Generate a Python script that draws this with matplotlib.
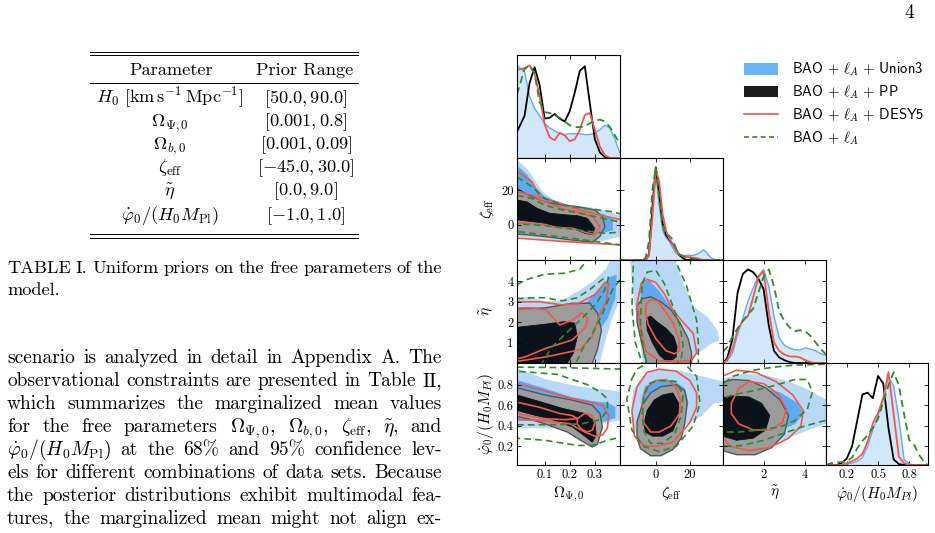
import matplotlib
matplotlib.use("Agg")
import matplotlib.pyplot as plt
from matplotlib.patches import Patch
from matplotlib.lines import Line2D

plt.rcParams['font.family'] = 'serif'
plt.rcParams['font.serif'] = ['cmr10']
plt.rcParams['mathtext.fontset'] = 'cm'
plt.rcParams['axes.formatter.use_mathtext'] = True

# ---------------------------------------------------------------------------
# page text
# ---------------------------------------------------------------------------
table_params = [r'$H_0\ [\mathrm{km\,s^{-1}\,Mpc^{-1}}]$', r'$\Omega_{\Psi,0}$',
                r'$\Omega_{b,0}$', r'$\zeta_{\mathrm{eff}}$', r'$\tilde{\eta}$',
                r'$\dot{\varphi}_0/(H_0M_{\mathrm{Pl}})$']
table_ranges = [r'$[50.0, 90.0]$', r'$[0.001, 0.8]$', r'$[0.001, 0.09]$',
                r'$[-45.0, 30.0]$', r'$[0.0, 9.0]$', r'$[-1.0, 1.0]$']
caption_lines = ['TABLE I. Uniform priors on the free parameters of the',
                 'model.']
# words are split on spaces, so the math parts hold no spaces
body_lines = ['scenario is analyzed in detail in Appendix A. The',
              'observational constraints are presented in Table II,',
              'which summarizes the marginalized mean values',
              r'for the free parameters $\Omega_{\Psi,0}$, $\Omega_{b,0}$, $\zeta_{\mathrm{eff}}$, $\tilde{\eta}$, and',
              r'$\dot{\varphi}_0/(H_0M_{\mathrm{Pl}})$ at the 68% and 95% confidence lev-',
              'els for different combinations of data sets. Because',
              'the posterior distributions exhibit multimodal fea-',
              'tures, the marginalized mean might not align ex-']

# ---------------------------------------------------------------------------
# corner plot data
# ---------------------------------------------------------------------------
labels = [r'$\Omega_{\Psi,0}$', r'$\zeta_{\mathrm{eff}}$', r'$\tilde{\eta}$',
          r'$\dot{\varphi}_0/(H_0M_{Pl})$']
xlims = [(-0.01, 0.40), (-21, 39.5), (0.05, 5.0), (0.0, 0.98)]
ylims = [(0, 1), (-20.2, 38.5), (0.0, 5.05), (0.02, 1.01)]
ticks = [[0.1, 0.2, 0.3], [0, 20], [1, 2, 3, 4], [0.2, 0.4, 0.6, 0.8]]
tick_text = [['0.1', '0.2', '0.3'], ['0', '20'], ['1', '2', '3', '4'],
             ['0.2', '0.4', '0.6', '0.8']]
xticks_bottom = [[0.1, 0.2, 0.3], [0, 20], [2, 4], [0.2, 0.5, 0.8]]
xtick_text = [['0.1', '0.2', '0.3'], ['0', '20'], ['2', '4'], ['0.2', '0.5', '0.8']]
legend_labels = [r'BAO $+$ $\ell_A$ $+$ Union3', r'BAO $+$ $\ell_A$ $+$ PP',
                 r'BAO $+$ $\ell_A$ $+$ DESY5', r'BAO $+$ $\ell_A$']

# 1D marginals (peak normalised)
om_grid = [-0.01, 0.02, 0.04, 0.06, 0.08, 0.10, 0.12, 0.14, 0.16, 0.18, 0.20,
           0.22, 0.24, 0.26, 0.28, 0.30, 0.32, 0.34, 0.36, 0.38, 0.40]
om_union3 = [0.99, 0.92, 0.66, 0.53, 0.45, 0.37, 0.32, 0.29, 0.26, 0.25, 0.26,
             0.26, 0.26, 0.25, 0.25, 0.27, 0.30, 0.35, 0.32, 0.20, 0.05]
om_pp = [0.28, 0.45, 0.80, 0.97, 0.78, 0.42, 0.43, 0.47, 0.42, 0.39, 0.50,
         0.70, 0.93, 0.98, 0.58, 0.20, 0.06, 0.01, 0.0, 0.0, 0.0]
om_desy5 = [0.94, 0.96, 0.99, 0.90, 0.66, 0.36, 0.22, 0.19, 0.27, 0.24, 0.18,
            0.20, 0.30, 0.46, 0.48, 0.30, 0.12, 0.03, 0.0, 0.0, 0.0]
om_bao = [0.68, 0.95, 0.99, 0.90, 0.60, 0.49, 0.48, 0.46, 0.43, 0.39, 0.35,
          0.33, 0.33, 0.34, 0.37, 0.40, 0.41, 0.39, 0.33, 0.24, 0.15]

ze_grid = [-21, -8, -6, -4, -2, 0, 2, 4, 6, 8, 10, 12, 14, 16, 18, 20, 22, 24,
           26, 28, 30, 32, 34, 36, 39.5]
ze_union3 = [0, 0, 0, 0.08, 0.6, 0.97, 0.6, 0.32, 0.24, 0.20, 0.13, 0.07, 0.05,
             0.05, 0.05, 0.05, 0.05, 0.06, 0.08, 0.11, 0.08, 0.03, 0.01, 0, 0]
ze_pp = [0, 0, 0, 0.05, 0.55, 1.0, 0.72, 0.40, 0.27, 0.22, 0.17, 0.11, 0.05,
         0.02, 0, 0, 0, 0, 0, 0, 0, 0, 0, 0, 0]
ze_desy5 = [0, 0, 0, 0.05, 0.45, 0.98, 0.85, 0.50, 0.32, 0.23, 0.17, 0.10, 0.06,
            0.04, 0.035, 0.03, 0.025, 0.02, 0.01, 0, 0, 0, 0, 0, 0]
ze_bao = [0, 0, 0.02, 0.2, 0.75, 1.0, 0.65, 0.38, 0.26, 0.26, 0.22, 0.12, 0.06,
          0.04, 0.03, 0.02, 0.015, 0.01, 0.005, 0, 0, 0, 0, 0, 0]

et_grid = [0.05, 0.25, 0.5, 0.75, 1.0, 1.25, 1.5, 1.75, 2.0, 2.25, 2.5, 2.75,
           3.0, 3.25, 3.5, 3.75, 4.0, 4.25, 4.5, 4.75, 5.0]
et_union3 = [0.0, 0.02, 0.1, 0.3, 0.48, 0.66, 0.80, 0.93, 1.0, 0.82, 0.50, 0.27,
             0.19, 0.16, 0.14, 0.14, 0.16, 0.15, 0.13, 0.10, 0.08]
et_pp = [0.0, 0.05, 0.25, 0.75, 0.95, 1.0, 0.97, 0.90, 0.79, 0.40, 0.13, 0.06,
         0.03, 0.01, 0, 0, 0, 0, 0, 0, 0]
et_desy5 = [0.0, 0.03, 0.15, 0.35, 0.45, 0.50, 0.70, 0.92, 0.98, 0.55, 0.22,
            0.13, 0.09, 0.07, 0.07, 0.06, 0.03, 0.01, 0, 0, 0]
et_bao = [0.12, 0.17, 0.28, 0.37, 0.45, 0.52, 0.58, 0.75, 0.92, 1.0, 0.82, 0.55,
          0.45, 0.38, 0.34, 0.35, 0.34, 0.29, 0.22, 0.15, 0.09]

ph_grid = [0.0, 0.05, 0.10, 0.15, 0.20, 0.25, 0.30, 0.35, 0.40, 0.45, 0.50,
           0.55, 0.60, 0.65, 0.70, 0.75, 0.80, 0.85, 0.90, 0.95, 0.98]
ph_union3 = [0, 0, 0, 0, 0.01, 0.02, 0.04, 0.08, 0.2, 0.38, 0.53, 0.72, 0.95,
             0.85, 0.50, 0.06, 0.01, 0, 0, 0, 0]
ph_pp = [0, 0, 0, 0.02, 0.07, 0.2, 0.48, 0.76, 0.78, 0.72, 0.96, 0.88, 0.40,
         0.06, 0.01, 0, 0, 0, 0, 0, 0]
ph_desy5 = [0, 0, 0, 0, 0.02, 0.04, 0.07, 0.12, 0.25, 0.45, 0.56, 0.72, 1.0,
            0.55, 0.09, 0.02, 0, 0, 0, 0, 0]
ph_bao = [0.0, 0.02, 0.03, 0.03, 0.04, 0.08, 0.18, 0.26, 0.32, 0.40, 0.50, 0.68,
          0.86, 1.0, 0.86, 0.55, 0.27, 0.21, 0.10, 0.02, 0.0]

# 2D contours: (x, y) vertices of the 95% and 68% regions
# Omega vs zeta
oz_u95 = [(-0.01, 39), (-0.01, 37), (0.03, 32), (0.06, 25.7), (0.09, 19), (0.14, 13.3),
          (0.21, 11), (0.30, 9.5), (0.37, 6.7), (0.42, 4.5), (0.42, -6), (0.37, -7.6),
          (0.30, -9.9), (0.23, -9.9), (0.17, -9.1), (0.10, -8), (0.03, -7.2), (-0.01, -6.7)]
oz_u68 = [(-0.01, 34), (0.03, 28.6), (0.06, 22), (0.10, 16), (0.17, 12.4), (0.26, 8.6),
          (0.34, 5.7), (0.37, 2.9), (0.37, -2.9), (0.30, -5.7), (0.21, -4.8), (0.10, -3.4),
          (-0.01, -4.2)]
oz_p95 = [(-0.01, 21), (0.03, 17.5), (0.10, 13.3), (0.17, 11.4), (0.23, 10.5), (0.30, 8.6),
          (0.33, 4.8), (0.34, -1), (0.32, -6.7), (0.29, -9.9), (0.23, -9.1), (0.17, -8),
          (0.10, -6.7), (0.03, -5.7), (-0.01, -5.3)]
oz_p68 = [(-0.01, 14.3), (0.03, 13.3), (0.07, 9.5), (0.12, 6.7), (0.19, 5.7), (0.23, 5.3),
          (0.27, 3.8), (0.30, -1.9), (0.29, -5.7), (0.26, -4.8), (0.21, -1.9), (0.15, -1),
          (0.10, 1), (0.05, 1.9), (-0.01, 2.9)]
oz_r95 = [(-0.01, 31), (0.05, 24.8), (0.08, 16), (0.17, 12), (0.24, 8.6), (0.345, 4.8),
          (0.42, 2.5), (0.42, -12), (0.39, -11.4), (0.17, -9.5), (-0.01, -7.6)]
oz_r68 = [(-0.01, 19), (0.05, 17.1), (0.10, 13.3), (0.17, 9.5), (0.23, 7.6), (0.29, 4.8),
          (0.32, -1), (0.30, -5.7), (0.26, -4.2), (0.21, -1.9), (0.15, -1.5), (0.10, 0),
          (0.03, 1), (-0.01, 1)]
oz_g95 = [(-0.01, 27.6), (0.05, 22), (0.10, 15.2), (0.17, 11.4), (0.26, 9.5), (0.37, 7.6),
          (0.42, 5.7), (0.42, -12), (0.40, -11.5), (0.30, -9.5), (0.17, -7), (-0.01, -3.8)]
oz_g68 = [(-0.01, 17.1), (0.05, 15.2), (0.10, 11.4), (0.17, 8.6), (0.26, 6.1), (0.36, 2.9),
          (0.42, 1), (0.42, -4), (0.34, -4.8), (0.23, -2.9), (0.10, -0.4), (-0.01, 0.5)]

# Omega vs eta
oe_u95 = [(-0.01, 3.2), (0.05, 3.2), (0.105, 3.0), (0.17, 3.05), (0.24, 3.55), (0.30, 4.05),
          (0.345, 4.6), (0.37, 5.2), (0.42, 5.2), (0.42, 3.7), (0.37, 2.3), (0.345, 1.3),
          (0.32, 0.1), (0.31, -0.2), (-0.01, -0.2)]
oe_u68 = [(-0.01, 2.55), (0.10, 2.55), (0.20, 2.65), (0.27, 3.0), (0.32, 3.6), (0.36, 4.2),
          (0.385, 4.3), (0.38, 3.2), (0.35, 2.2), (0.31, 1.5), (0.24, 1.1), (0.17, 0.9),
          (0.08, 0.6), (-0.01, 0.4)]
oe_p95 = [(-0.01, 2.65), (0.10, 2.7), (0.21, 2.93), (0.28, 2.93), (0.31, 2.45), (0.326, 1.6),
          (0.31, 0.65), (0.29, 0.0), (0.28, -0.2), (-0.01, -0.2)]
oe_p68 = [(-0.01, 1.75), (0.10, 1.9), (0.18, 2.03), (0.22, 1.95), (0.23, 1.3), (0.215, 0.5),
          (0.19, 0.0), (0.18, -0.2), (-0.01, -0.2)]
oe_r95 = [(-0.01, 3.0), (0.08, 3.0), (0.17, 2.85), (0.23, 2.9), (0.30, 3.35), (0.34, 3.95),
          (0.355, 3.9), (0.345, 3.0), (0.32, 2.4), (0.29, 1.3), (0.24, 0.65), (0.105, 0.3),
          (0.0, 0.1), (-0.01, 0.1)]
oe_r68 = [(-0.01, 2.7), (0.05, 2.7), (0.105, 2.6), (0.16, 1.87), (0.21, 2.1), (0.25, 2.45),
          (0.27, 2.2), (0.265, 1.78), (0.21, 1.13), (0.105, 0.72), (0.025, 0.31), (-0.01, 0.2)]
oe_g95 = [(-0.01, 3.85), (0.03, 4.1), (0.10, 4.35), (0.18, 4.4), (0.24, 4.6), (0.28, 5.2),
          (0.42, 5.2), (0.42, 4.4), (0.37, 3.6), (0.33, 2.4), (0.29, 1.45), (0.25, 0.65),
          (0.225, 0.0), (0.2, -0.2), (-0.01, -0.2)]
oe_g68 = [(-0.01, 3.15), (0.05, 3.2), (0.10, 3.2), (0.17, 3.05), (0.23, 3.2), (0.28, 3.6),
          (0.33, 4.1), (0.355, 4.2), (0.34, 3.6), (0.305, 2.9), (0.25, 2.2), (0.21, 1.75),
          (0.13, 0.8), (0.09, 0.0), (0.08, -0.2), (-0.01, -0.2)]

# Omega vs phi
op_u95 = [(-0.01, 0.95), (0.05, 0.9), (0.10, 0.85), (0.23, 0.78), (0.34, 0.75), (0.42, 0.72),
          (0.42, 0.47), (0.34, 0.43), (0.23, 0.39), (0.10, 0.38), (-0.01, 0.38)]
op_u68 = [(-0.01, 0.84), (0.10, 0.76), (0.20, 0.68), (0.28, 0.64), (0.35, 0.62), (0.38, 0.58),
          (0.38, 0.48), (0.33, 0.44), (0.28, 0.43), (0.15, 0.44), (-0.01, 0.46)]
op_p95 = [(-0.01, 0.77), (0.10, 0.70), (0.21, 0.65), (0.29, 0.60), (0.32, 0.52), (0.33, 0.39),
          (0.31, 0.22), (0.29, 0.195), (0.25, 0.25), (0.19, 0.34), (0.10, 0.42), (0.034, 0.47),
          (-0.01, 0.49)]
op_p68 = [(-0.01, 0.70), (0.074, 0.64), (0.17, 0.57), (0.26, 0.52), (0.30, 0.44), (0.305, 0.31),
          (0.29, 0.24), (0.26, 0.30), (0.21, 0.39), (0.13, 0.46), (0.034, 0.52), (-0.01, 0.55)]
op_r95 = [(-0.01, 0.81), (0.10, 0.74), (0.20, 0.67), (0.28, 0.63), (0.33, 0.60), (0.355, 0.50),
          (0.35, 0.38), (0.33, 0.31), (0.30, 0.30), (0.26, 0.34), (0.20, 0.42), (0.10, 0.45),
          (-0.01, 0.46)]
op_r68a = [(-0.01, 0.63), (0.08, 0.58), (0.16, 0.52), (0.21, 0.50), (0.23, 0.47), (0.18, 0.46),
           (0.10, 0.47), (0.03, 0.50), (-0.01, 0.52)]
op_r68b = [(0.23, 0.47), (0.26, 0.52), (0.29, 0.50), (0.30, 0.43), (0.29, 0.36), (0.27, 0.34),
           (0.245, 0.37), (0.23, 0.42)]
op_g95 = [(-0.01, 0.97), (0.17, 0.965), (0.42, 0.95), (0.42, 0.3), (0.35, 0.26), (0.29, 0.21),
          (0.23, 0.21), (0.10, 0.26), (-0.01, 0.28)]
op_g68 = [(-0.01, 0.41), (0.15, 0.41), (0.25, 0.42), (0.32, 0.46), (0.35, 0.55), (0.35, 0.66),
          (0.32, 0.73), (0.27, 0.80), (0.15, 0.90), (-0.01, 0.93)]

# zeta vs eta
ze_u95 = [(-15, 5.3), (10, 5.3), (16, 3.9), (22, 2.75), (30, 2.26), (36, 1.6), (37, 1.12),
          (32, 0.95), (22, 0.3), (19.5, -0.1), (-7, -0.1), (-9, 1.1), (-12, 2.75), (-14, 4.2)]
ze_u68 = [(-9, 3.8), (-4, 4.05), (2, 3.5), (8, 2.8), (13, 2.1), (16, 1.5), (16.5, 0.9),
          (14, 0.3), (12, -0.1), (-6, -0.1), (-7, 1.0), (-8, 2.5)]
ze_p95 = [(-11, 2.8), (-8, 3.15), (-3, 3.25), (3, 3.0), (9, 2.6), (14, 2.0), (19, 1.2),
          (21, 0.5), (21, -0.1), (-5, -0.1), (-8, 0.9), (-11, 2.0)]
ze_p68 = [(-5.5, 2.2), (-3, 2.3), (1, 2.0), (6, 1.7), (10.5, 1.3), (12.5, 0.8), (12, 0.3),
          (9, 0.1), (6, 0.1), (2, 0.4), (-2, 1.0), (-5, 1.6)]
ze_r95 = [(-8.5, 3.9), (-5, 4.1), (0, 3.95), (5, 3.4), (10, 2.6), (16, 2.0), (22, 1.45),
          (24, 0.5), (21, 0.12), (10, 0.1), (2, 0.1), (-6, 0.6), (-9, 1.9), (-11, 2.9)]
ze_r68 = [(-5.5, 2.9), (-3, 3.1), (1, 3.05), (5, 2.6), (10, 2.0), (13.5, 1.2), (14, 0.6),
          (11, 0.45), (6, 0.6), (0, 1.2), (-4.5, 1.9), (-6, 2.5)]
ze_g95 = [(-13, 5.3), (-14, 2.75), (-12, 1.0), (-8, 0.0), (-7, -0.3), (25, -0.3), (25, 1.0),
          (24, 2.1), (18, 3.8), (10, 5.3)]
ze_g68 = [(-8, 3.9), (-5, 4.45), (0, 4.55), (5, 3.9), (10, 2.8), (14, 1.9), (16, 0.9),
          (15, 0.2), (10, -0.2), (-5, -0.2), (-7, 0.5), (-9, 1.9)]

# zeta vs phi
zp_u95 = [(-7, 0.88), (0, 0.94), (12, 0.94), (24, 0.89), (41, 0.82), (41, 0.64), (34, 0.62),
          (26, 0.49), (16, 0.40), (8, 0.25), (0, 0.17), (-9, 0.23), (-13, 0.4), (-14, 0.59),
          (-13, 0.75)]
zp_u68 = [(-6, 0.78), (0, 0.84), (10, 0.84), (17, 0.76), (19, 0.62), (15, 0.45), (8, 0.30),
          (0, 0.23), (-6, 0.32), (-9, 0.5), (-8, 0.68)]
zp_p95 = [(-11, 0.44), (-8, 0.6), (-3, 0.72), (3, 0.78), (12, 0.80), (17, 0.74), (18.5, 0.62),
          (17, 0.42), (15, 0.28), (10, 0.17), (3, 0.11), (-3, 0.11), (-9, 0.18), (-11, 0.28)]
zp_p68 = [(-7, 0.42), (-5, 0.55), (-1, 0.65), (4, 0.70), (10, 0.72), (13.5, 0.62), (13, 0.47),
          (10, 0.35), (4, 0.30), (-2, 0.30), (-6, 0.34)]
zp_r95 = [(-5, 0.92), (2, 0.95), (12, 0.93), (20, 0.84), (24, 0.72), (24, 0.58), (20, 0.43),
          (10, 0.24), (0, 0.2), (-7, 0.21), (-12.5, 0.3), (-14, 0.55), (-11, 0.78)]
zp_r68 = [(-6, 0.76), (0, 0.84), (6, 0.85), (12, 0.78), (14.5, 0.65), (14, 0.52), (9, 0.40),
          (2, 0.34), (-3, 0.34), (-7, 0.43), (-8, 0.6)]
zp_g95 = [(-14, 0.86), (-11, 0.95), (-4, 1.02), (16, 1.02), (24, 0.88), (26, 0.62), (22, 0.40),
          (12, 0.20), (2, 0.15), (-7, 0.20), (-14, 0.36), (-17, 0.66)]
zp_g68 = [(-4, 0.81), (1, 0.84), (12, 0.83), (16, 0.70), (15, 0.5), (11, 0.32), (4, 0.23),
          (-3, 0.23), (-7, 0.35), (-8, 0.5), (-7, 0.68)]

# eta vs phi
ep_u95 = [(-0.3, 0.84), (1.0, 0.90), (2.0, 0.89), (3.0, 0.84), (4.0, 0.76), (5.3, 0.62),
          (5.3, 0.45), (4.0, 0.35), (3.0, 0.27), (2.0, 0.22), (1.0, 0.22), (-0.3, 0.28)]
ep_u68 = [(-0.3, 0.68), (0.8, 0.76), (1.8, 0.77), (2.8, 0.72), (3.6, 0.62), (3.9, 0.52),
          (3.5, 0.42), (2.8, 0.36), (1.8, 0.32), (0.8, 0.34), (-0.3, 0.42)]
ep_p95 = [(-0.3, 0.80), (0.5, 0.85), (1.3, 0.84), (2.1, 0.77), (2.8, 0.65), (3.2, 0.50),
          (3.0, 0.32), (2.4, 0.19), (1.6, 0.12), (0.7, 0.12), (-0.3, 0.18)]
ep_p68 = [(-0.3, 0.66), (0.5, 0.69), (1.3, 0.68), (1.9, 0.62), (2.3, 0.50), (2.1, 0.36),
          (1.5, 0.28), (0.7, 0.26), (-0.3, 0.32)]
ep_r95 = [(0.0, 0.88), (0.7, 0.94), (1.6, 0.92), (2.6, 0.83), (3.4, 0.70), (3.9, 0.55),
          (3.8, 0.40), (3.2, 0.28), (2.3, 0.19), (1.3, 0.16), (0.4, 0.2), (0.0, 0.3), (-0.3, 0.5)]
ep_r68 = [(0.45, 0.62), (0.8, 0.76), (1.3, 0.83), (2.0, 0.81), (2.7, 0.71), (3.1, 0.56),
          (2.9, 0.43), (2.3, 0.36), (1.5, 0.36), (0.8, 0.42), (0.45, 0.52)]
ep_g95 = [(-0.3, 0.75), (0.5, 0.88), (1.5, 0.94), (2.5, 0.97), (3.5, 0.99), (5.3, 1.0),
          (5.3, 0.47), (4.0, 0.40), (3.0, 0.33), (2.0, 0.26), (1.0, 0.21), (0.0, 0.2), (-0.3, 0.2)]
ep_g68 = [(-0.3, 0.64), (0.5, 0.70), (1.5, 0.74), (2.5, 0.79), (3.5, 0.85), (4.1, 0.85),
          (4.35, 0.73), (4.1, 0.56), (3.5, 0.45), (2.8, 0.39), (1.8, 0.36), (0.8, 0.34), (-0.3, 0.34)]

# ---------------------------------------------------------------------------
# colours
# ---------------------------------------------------------------------------
U_LIGHT = '#b9d8f7'
U_MED = '#5eaaf0'
U_1D = '#d3e7fb'
U_LINE = '#63aaee'
P_GRAY = '#9c9c9c'
P_EDGE = '#555555'
P_DARK = '#0c121a'
RED = '#f2564e'
GREEN = '#2a8c2a'

W, H = 935, 533
fig = plt.figure(figsize=(W / 100, H / 100), dpi=100)
renderer = fig.canvas.get_renderer()
FS = 14.0        # body text
FS_SMALL = 13.2  # table and caption


def fx(px):
    return px / W


def fy(py):
    return 1 - py / H


def hline(x0, x1, y, lw=0.7):
    fig.add_artist(Line2D([fx(x0), fx(x1)], [fy(y), fy(y)],
                          transform=fig.transFigure, color='k', lw=lw))


def justified(text, yb, size, x0=7, x1=442, stretch=True):
    words = text.split(' ')
    arts = [fig.text(0, fy(yb), w, fontsize=size, va='baseline', ha='left')
            for w in words]
    widths = [a.get_window_extent(renderer).width for a in arts]
    if stretch and len(words) > 1:
        gap = (x1 - x0 - sum(widths)) / (len(words) - 1)
    else:
        gap = size * 0.45
    x = x0
    for a, w in zip(arts, widths):
        a.set_position((fx(x), fy(yb)))
        x += w + gap


# page number
fig.text(fx(909), fy(18), '4', fontsize=FS, ha='center', va='baseline')

# table
hline(90, 358, 51.5)
hline(90, 358, 55.5)
fig.text(fx(171), fy(75), 'Parameter', fontsize=FS_SMALL, ha='center', va='baseline')
fig.text(fx(305), fy(75), 'Prior Range', fontsize=FS_SMALL, ha='center', va='baseline')
hline(90, 358, 83)
row_base = [103, 126.5, 149.5, 172.5, 195, 220]
for p, rg, yb in zip(table_params, table_ranges, row_base):
    fig.text(fx(170), fy(yb), p, fontsize=FS_SMALL, ha='center', va='baseline')
    fig.text(fx(306), fy(yb), rg, fontsize=FS_SMALL, ha='center', va='baseline')
hline(90, 358, 233.5)
hline(90, 358, 237.5)

# caption and body
justified(caption_lines[0], 273, FS_SMALL)
justified(caption_lines[1], 295, FS_SMALL, stretch=False)
body_base = [363, 386, 409, 432, 455, 478, 501, 524]
for line, yb in zip(body_lines, body_base):
    justified(line, yb, FS)

# ---------------------------------------------------------------------------
# corner plot
# ---------------------------------------------------------------------------
COLS = [517, 620, 723, 826, 928]
ROWS = [55, 158, 260, 363, 465]


def panel(r, c):
    x0, x1 = COLS[c], COLS[c + 1]
    y0, y1 = ROWS[r], ROWS[r + 1]
    ax = fig.add_axes([fx(x0), fy(y1), (x1 - x0) / W, (y1 - y0) / H])
    for s in ax.spines.values():
        s.set_linewidth(0.8)
    ax.tick_params(direction='in', top=True, right=True, length=3, width=0.6,
                   labelsize=9, pad=2.5)
    return ax


def fill_c(ax, pts, face, edge=None, lw=0.6):
    xs, ys = zip(*pts)
    ax.fill(xs, ys, facecolor=face, edgecolor=edge or face, lw=lw)


def line_c(ax, pts, color, ls='-'):
    xs, ys = zip(*pts)
    if ls == '-':
        ax.fill(xs, ys, fill=False, edgecolor=color, lw=1.2)
    else:
        ax.fill(xs, ys, fill=False, edgecolor=color, lw=1.2, ls=(0, (4, 2.5)))


contours = {
    (1, 0): (oz_u95, oz_u68, oz_p95, oz_p68, [oz_r95, oz_r68], [oz_g95, oz_g68]),
    (2, 0): (oe_u95, oe_u68, oe_p95, oe_p68, [oe_r95, oe_r68], [oe_g95, oe_g68]),
    (3, 0): (op_u95, op_u68, op_p95, op_p68, [op_r95, op_r68a, op_r68b], [op_g95, op_g68]),
    (2, 1): (ze_u95, ze_u68, ze_p95, ze_p68, [ze_r95, ze_r68], [ze_g95, ze_g68]),
    (3, 1): (zp_u95, zp_u68, zp_p95, zp_p68, [zp_r95, zp_r68], [zp_g95, zp_g68]),
    (3, 2): (ep_u95, ep_u68, ep_p95, ep_p68, [ep_r95, ep_r68], [ep_g95, ep_g68]),
}
marginals = [
    (om_grid, om_union3, om_pp, om_desy5, om_bao),
    (ze_grid, ze_union3, ze_pp, ze_desy5, ze_bao),
    (et_grid, et_union3, et_pp, et_desy5, et_bao),
    (ph_grid, ph_union3, ph_pp, ph_desy5, ph_bao),
]

for r in range(4):
    for c in range(r + 1):
        ax = panel(r, c)
        ax.set_xlim(xlims[c])
        if r == 3:
            ax.set_xticks(xticks_bottom[c])
            ax.set_xticklabels(xtick_text[c])
            ax.set_xlabel(labels[c], fontsize=11)
            ax.xaxis.set_label_coords(0.5, -0.19)
        else:
            ax.set_xticks(xticks_bottom[c])
            ax.set_xticklabels([])
        if r == c:
            grid, u3, pp, desy, bao = marginals[c]
            ax.fill_between(grid, 0, u3, color=U_1D, lw=0)
            ax.plot(grid, u3, color=U_LINE, lw=1.0)
            ax.plot(grid, pp, color='k', lw=1.3)
            ax.plot(grid, desy, color=RED, lw=1.3)
            ax.plot(grid, bao, color=GREEN, lw=1.3, ls=(0, (4, 2.5)))
            ax.set_ylim(0, 1.1)
            if r > 0:
                lo, hi = ylims[r]
                ax.set_yticks([(t - lo) / (hi - lo) * 1.1 for t in ticks[r]])
            else:
                ax.set_yticks([])
            ax.set_yticklabels([])
        else:
            u95, u68, p95, p68, reds, greens = contours[(r, c)]
            fill_c(ax, u95, U_LIGHT)
            fill_c(ax, u68, U_MED)
            fill_c(ax, p95, P_GRAY, P_EDGE, 1.0)
            fill_c(ax, p68, P_DARK)
            for pts in reds:
                line_c(ax, pts, RED)
            for pts in greens:
                line_c(ax, pts, GREEN, '--')
            ax.set_ylim(ylims[r])
            ax.set_yticks(ticks[r])
            if c == 0:
                ax.set_yticklabels(tick_text[r])
                ax.set_ylabel(labels[r], fontsize=11)
                ax.yaxis.set_label_coords(-0.2, 0.5)
            else:
                ax.set_yticklabels([])

# legend
handles = [Patch(facecolor='#6ab4f8', edgecolor='none'),
           Patch(facecolor='#1b1b1b', edgecolor='none'),
           Line2D([], [], color=RED, lw=1.2),
           Line2D([], [], color=GREEN, lw=1.2, ls=(0, (3, 2)))]
fig.legend(handles, legend_labels, loc='upper left',
           bbox_to_anchor=(fx(744), fy(61)), frameon=False,
           prop={'family': 'cmss10', 'size': 10.5}, handlelength=2.3,
           handleheight=0.8, handletextpad=1.0, labelspacing=0.36,
           borderpad=0, borderaxespad=0)

fig.savefig('out.png', dpi=100)
